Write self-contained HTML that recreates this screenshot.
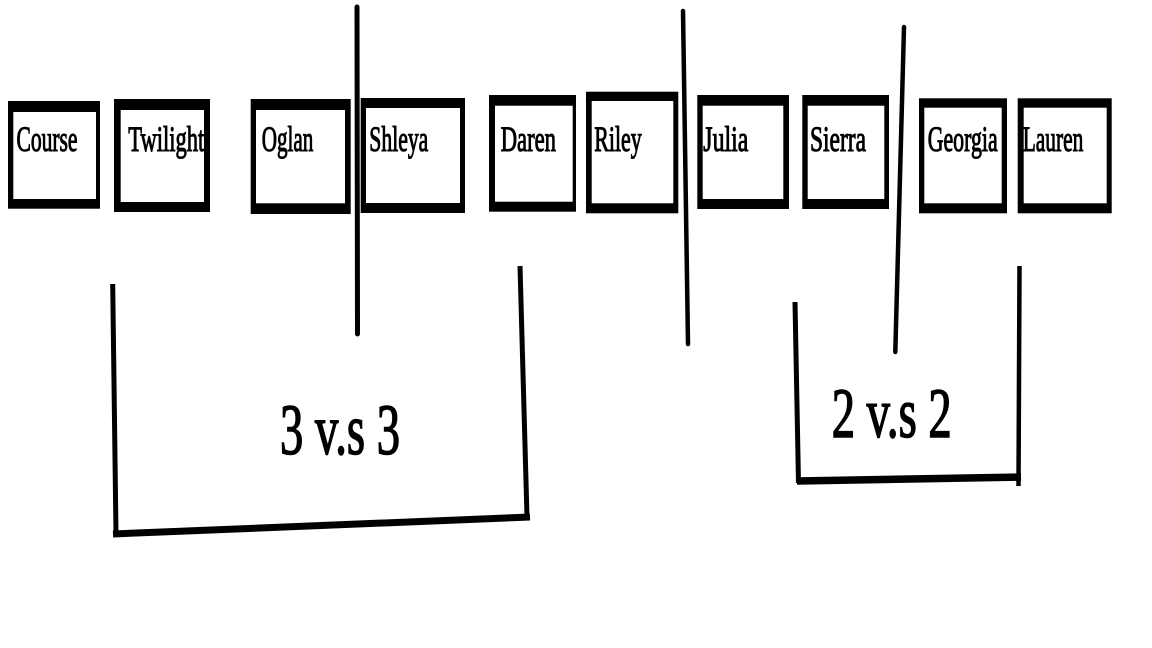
<!DOCTYPE html>
<html>
<head>
<meta charset="utf-8">
<style>
  html, body { margin: 0; padding: 0; background: #ffffff; }
  body { width: 1152px; height: 648px; overflow: hidden; }
  svg { display: block; }
  text { font-family: "Liberation Serif", serif; fill: #000; font-weight: normal; stroke: #000; stroke-width: 1.1; }
  text.big { stroke-width: 1.6; }
</style>
</head>
<body>
<svg width="1152" height="648" viewBox="0 0 1152 648" xmlns="http://www.w3.org/2000/svg">
  <rect x="0" y="0" width="1152" height="648" fill="#fff"/>

  <!-- Boxes: outer black, inner white -->
  <g>
    <rect x="8" y="101" width="92" height="107.7" fill="#000"/>
    <rect x="13.3" y="112" width="82.7" height="87" fill="#fff"/>

    <rect x="114" y="99" width="96" height="113" fill="#000"/>
    <rect x="120.7" y="110" width="83.3" height="92" fill="#fff"/>

    <rect x="250.7" y="99" width="100" height="115" fill="#000"/>
    <rect x="256" y="110" width="89" height="93.3" fill="#fff"/>

    <rect x="360.7" y="98" width="104.3" height="115" fill="#000"/>
    <rect x="366" y="108" width="94" height="95" fill="#fff"/>

    <rect x="489" y="95" width="87" height="116.7" fill="#000"/>
    <rect x="495" y="105.7" width="77.7" height="96" fill="#fff"/>

    <rect x="586" y="91.7" width="92.3" height="121.6" fill="#000"/>
    <rect x="591.7" y="101" width="81.6" height="102.3" fill="#fff"/>

    <rect x="697.3" y="95" width="91.7" height="114" fill="#000"/>
    <rect x="702.7" y="105.7" width="80.6" height="93.3" fill="#fff"/>

    <rect x="802.3" y="95" width="86.7" height="114" fill="#000"/>
    <rect x="807.7" y="105.7" width="76.6" height="93.3" fill="#fff"/>

    <rect x="919" y="98.3" width="88" height="115" fill="#000"/>
    <rect x="924.3" y="107.7" width="77.4" height="95.6" fill="#fff"/>

    <rect x="1017.7" y="98.3" width="94" height="115" fill="#000"/>
    <rect x="1023.7" y="107.7" width="83" height="95.6" fill="#fff"/>
  </g>

  <!-- Names -->
  <g font-size="36">
    <text x="16.5" y="151" textLength="61" lengthAdjust="spacingAndGlyphs">Course</text>
    <text x="128.3" y="151" textLength="76" lengthAdjust="spacingAndGlyphs">Twilight</text>
    <text x="261.7" y="151" textLength="51.6" lengthAdjust="spacingAndGlyphs">Oglan</text>
    <text x="369.3" y="151" textLength="59" lengthAdjust="spacingAndGlyphs">Shleya</text>
    <text x="500.7" y="151" textLength="55.3" lengthAdjust="spacingAndGlyphs">Daren</text>
    <text x="594.3" y="151" textLength="47.4" lengthAdjust="spacingAndGlyphs">Riley</text>
    <text x="703.3" y="151" textLength="45" lengthAdjust="spacingAndGlyphs">Julia</text>
    <text x="810" y="151" textLength="56" lengthAdjust="spacingAndGlyphs">Sierra</text>
    <text x="927.7" y="151" textLength="70" lengthAdjust="spacingAndGlyphs">Georgia</text>
    <text x="1022.7" y="151" textLength="60.6" lengthAdjust="spacingAndGlyphs">Lauren</text>
  </g>

  <!-- Divider lines -->
  <g stroke="#000" fill="none" stroke-linecap="round">
    <line x1="357" y1="7" x2="357.5" y2="334" stroke-width="5"/>
    <line x1="683" y1="11" x2="688" y2="344" stroke-width="4.5"/>
    <line x1="904" y1="27" x2="895.3" y2="352" stroke-width="4.5"/>
  </g>

  <!-- Left bracket -->
  <g stroke="#000" fill="none">
    <line x1="112.7" y1="284" x2="116" y2="534" stroke-width="5"/>
    <line x1="520" y1="266" x2="527" y2="517" stroke-width="5"/>
    <line x1="113" y1="534" x2="530" y2="517" stroke-width="7"/>
  </g>

  <!-- Right bracket -->
  <g stroke="#000" fill="none">
    <line x1="795" y1="302" x2="798.5" y2="483" stroke-width="5"/>
    <line x1="1019.5" y1="266" x2="1018.5" y2="486" stroke-width="4.5"/>
    <line x1="797" y1="481" x2="1021" y2="477" stroke-width="7.5"/>
  </g>

  <!-- Labels -->
  <text class="big" x="280" y="454" font-size="72" textLength="120" lengthAdjust="spacingAndGlyphs">3 v.s 3</text>
  <text class="big" x="831.7" y="437" font-size="71" textLength="120" lengthAdjust="spacingAndGlyphs">2 v.s 2</text>
</svg>
</body>
</html>
